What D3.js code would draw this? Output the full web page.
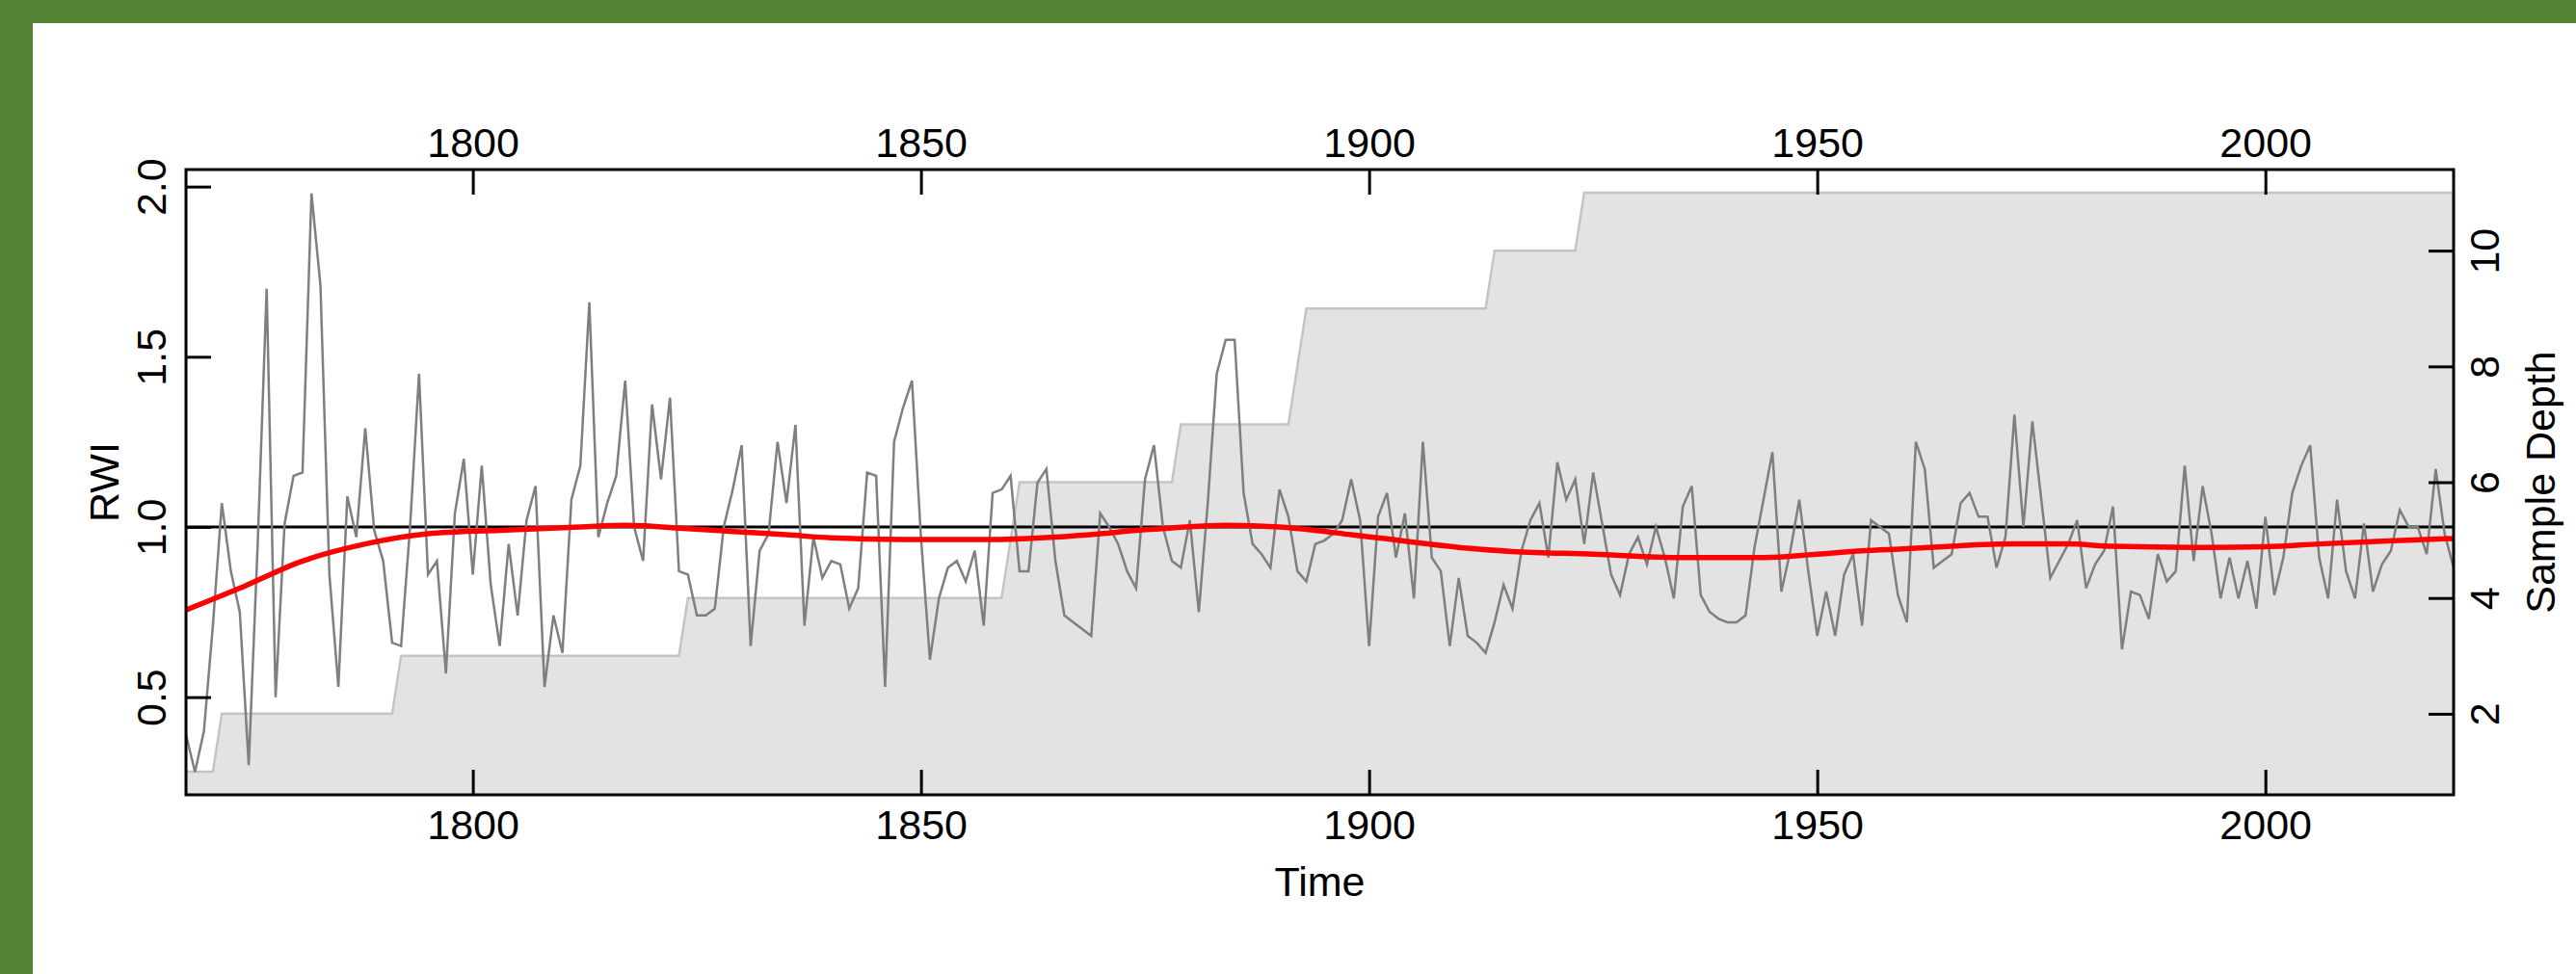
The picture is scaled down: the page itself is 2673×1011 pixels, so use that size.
<!DOCTYPE html>
<html>
<head>
<meta charset="utf-8">
<script src="https://cdn.jsdelivr.net/npm/d3@7"></script>
<style>
  html, body { margin: 0; padding: 0; background: #548235; }
  svg { display: block; }
  text { font-family: "Liberation Sans", Arial, sans-serif; font-size: 43px; fill: #000; }
</style>
</head>
<body>
<svg></svg>
<script>
//ring width index, one value per year starting at firstYear
var firstYear = 1768;
var rwi = [
    0.39, 0.28,
    0.40, 0.71, 1.07, 0.87, 0.75, 0.30, 0.95, 1.70, 0.50, 1.01, //1770s
    1.15, 1.16, 1.98, 1.71, 0.86, 0.53, 1.09, 0.97, 1.29, 0.99, //1780s
    0.90, 0.66, 0.65, 1.00, 1.45, 0.86, 0.90, 0.57, 1.04, 1.20, //1790s
    0.86, 1.18, 0.83, 0.65, 0.95, 0.74, 1.02, 1.12, 0.53, 0.74, //1800s
    0.63, 1.08, 1.18, 1.66, 0.97, 1.07, 1.15, 1.43, 1.00, 0.90, //1810s
    1.36, 1.14, 1.38, 0.87, 0.86, 0.74, 0.74, 0.76, 1.00, 1.11, //1820s
    1.24, 0.65, 0.93, 0.98, 1.25, 1.07, 1.30, 0.71, 0.97, 0.85, //1830s
    0.90, 0.89, 0.76, 0.82, 1.16, 1.15, 0.53, 1.25, 1.35, 1.43, //1840s
    0.97, 0.61, 0.79, 0.88, 0.90, 0.84, 0.93, 0.71, 1.10, 1.11, //1850s
    1.15, 0.87, 0.87, 1.13, 1.17, 0.90, 0.74, 0.72, 0.70, 0.68, //1860s
    1.04, 1.00, 0.95, 0.87, 0.82, 1.14, 1.24, 1.00, 0.90, 0.88, //1870s
    1.02, 0.75, 1.07, 1.45, 1.55, 1.55, 1.10, 0.95, 0.92, 0.88, //1880s
    1.11, 1.03, 0.87, 0.84, 0.95, 0.96, 0.98, 1.02, 1.14, 1.02, //1890s
    0.65, 1.03, 1.10, 0.91, 1.04, 0.79, 1.25, 0.91, 0.87, 0.65, //1900s
    0.85, 0.68, 0.66, 0.63, 0.72, 0.83, 0.76, 0.93, 1.02, 1.07, //1910s
    0.91, 1.19, 1.08, 1.14, 0.95, 1.16, 1.01, 0.86, 0.80, 0.92, //1920s
    0.97, 0.89, 1.00, 0.91, 0.79, 1.06, 1.12, 0.80, 0.75, 0.73, //1930s
    0.72, 0.72, 0.74, 0.94, 1.08, 1.22, 0.81, 0.93, 1.08, 0.87, //1940s
    0.68, 0.81, 0.68, 0.86, 0.92, 0.71, 1.02, 1.00, 0.98, 0.80, //1950s
    0.72, 1.25, 1.17, 0.88, 0.90, 0.92, 1.07, 1.10, 1.03, 1.03, //1960s
    0.88, 0.97, 1.33, 1.00, 1.31, 1.08, 0.85, 0.90, 0.95, 1.02, //1970s
    0.82, 0.89, 0.93, 1.06, 0.64, 0.81, 0.80, 0.73, 0.92, 0.84, //1980s
    0.87, 1.18, 0.90, 1.12, 0.98, 0.79, 0.91, 0.79, 0.90, 0.76, //1990s
    1.03, 0.80, 0.91, 1.10, 1.18, 1.24, 0.91, 0.79, 1.08, 0.87, //2000s
    0.79, 1.01, 0.81, 0.89, 0.93, 1.05, 1.00, 1.00, 0.92, 1.17, //2010s
    0.98, 0.88
];

//smoothing spline (red)
var splineYears = [1768, 1774, 1781, 1788, 1795, 1803, 1812, 1817, 1824, 1830, 1835, 1840, 1848, 1858,
    1865, 1870, 1874, 1878, 1884, 1890, 1894, 1898, 1902, 1906, 1910, 1916, 1925, 1935, 1944, 1950,
    1955, 1960, 1964, 1972, 1978, 1983, 1992, 2000, 2006, 2013, 2021];
var splineRwi = [0.756, 0.82, 0.90, 0.95, 0.98, 0.99, 1.0, 1.005, 0.995, 0.985, 0.977, 0.968, 0.963, 0.963,
    0.97, 0.98, 0.99, 0.997, 1.005, 1.0, 0.99, 0.977, 0.965, 0.952, 0.94, 0.928, 0.92, 0.91, 0.91, 0.92,
    0.93, 0.936, 0.942, 0.95, 0.95, 0.943, 0.94, 0.942, 0.95, 0.958, 0.966];

//sample depth, as runs of years with the same number of series
var depthFrom  = [1768, 1772, 1792, 1824, 1860, 1861, 1879, 1892, 1893, 1914, 1924];
var depthTo    = [1771, 1791, 1823, 1859, 1860, 1878, 1891, 1892, 1913, 1923, 2021];
var depthCount = [1, 2, 3, 4, 5, 6, 7, 8, 9, 10, 11];

//axes
var timeTicks = [1800, 1850, 1900, 1950, 2000];
var rwiTicks = [0.5, 1.0, 1.5, 2.0];
var depthTicks = [2, 4, 6, 8, 10];
var rwiLimits = [0.213, 2.05];
var depthLimits = [0.6, 11.4];

drawChart();

function drawChart() {
    var svgWidth = 2673, svgHeight = 1011;
    var box = { left: 193, right: 2546, top: 176, bottom: 825 };
    var tick = 26;

    var svg = d3.select('svg')
        .attr("width", svgWidth)
        .attr("height", svgHeight);

    //green frame with white page
    svg.append("rect")
        .attr("width", svgWidth).attr("height", svgHeight)
        .attr("fill", "#548235");
    svg.append("rect")
        .attr("x", 34).attr("y", 24)
        .attr("width", svgWidth - 34).attr("height", svgHeight - 24)
        .attr("fill", "#fff");

    var lastYear = firstYear + rwi.length - 1;
    var x = d3.scaleLinear().domain([firstYear, lastYear]).range([box.left, box.right]);
    var y = d3.scaleLinear().domain(rwiLimits).range([box.bottom, box.top]);
    var yDepth = d3.scaleLinear().domain(depthLimits).range([box.bottom, box.top]);

    svg.append("clipPath").attr("id", "plotclip")
        .append("rect")
        .attr("x", box.left).attr("y", box.top)
        .attr("width", box.right - box.left).attr("height", box.bottom - box.top);

    var g = svg.append("g").attr("clip-path", "url(#plotclip)");

    //sample depth polygon
    var depthPts = [];
    for (var i = 0; i < depthCount.length; i++) {
        depthPts.push({ year: depthFrom[i], depth: depthCount[i] });
        depthPts.push({ year: depthTo[i], depth: depthCount[i] });
    }
    g.append("path")
        .datum(depthPts)
        .attr("fill", "#e3e3e3")
        .attr("d", d3.area()
            .x(function(d) { return x(d.year); })
            .y0(box.bottom + 10)
            .y1(function(d) { return yDepth(d.depth); }));
    g.append("path")
        .datum(depthPts)
        .attr("fill", "none")
        .attr("stroke", "#c4c4c4")
        .attr("stroke-width", 2.5)
        .attr("d", d3.line()
            .x(function(d) { return x(d.year); })
            .y(function(d) { return yDepth(d.depth); }));

    //reference line at 1
    g.append("line")
        .attr("x1", box.left).attr("x2", box.right)
        .attr("y1", y(1)).attr("y2", y(1))
        .attr("stroke", "#000")
        .attr("stroke-width", 3);

    //chronology
    g.append("path")
        .datum(rwi)
        .attr("fill", "none")
        .attr("stroke", "#7f7f7f")
        .attr("stroke-width", 2.5)
        .attr("stroke-linejoin", "miter")
        .attr("d", d3.line()
            .x(function(d, i) { return x(firstYear + i); })
            .y(function(d) { return y(d); }));

    //spline
    g.append("path")
        .datum(splineYears)
        .attr("fill", "none")
        .attr("stroke", "#ff0000")
        .attr("stroke-width", 5.5)
        .attr("d", d3.line()
            .curve(d3.curveMonotoneX)
            .x(function(d) { return x(d); })
            .y(function(d, i) { return y(splineRwi[i]); }));

    //axes, ticks pointing inward
    var bottomAxis = svg.append("g")
        .attr("transform", "translate(0," + box.bottom + ")")
        .call(d3.axisBottom(x).tickValues(timeTicks).tickFormat(d3.format("d")).tickSize(-tick).tickPadding(15));
    var topAxis = svg.append("g")
        .attr("transform", "translate(0," + box.top + ")")
        .call(d3.axisTop(x).tickValues(timeTicks).tickFormat(d3.format("d")).tickSize(-tick).tickPadding(13));
    var leftAxis = svg.append("g")
        .attr("transform", "translate(" + box.left + ",0)")
        .call(d3.axisLeft(y).tickValues(rwiTicks).tickFormat(d3.format(".1f")).tickSize(-tick));
    var rightAxis = svg.append("g")
        .attr("transform", "translate(" + box.right + ",0)")
        .call(d3.axisRight(yDepth).tickValues(depthTicks).tickFormat(d3.format("d")).tickSize(-tick));

    [bottomAxis, topAxis, leftAxis, rightAxis].forEach(function(a) {
        a.select(".domain").remove();
        a.selectAll("line").attr("stroke", "#000").attr("stroke-width", 3);
    });

    //vertical tick labels on both y axes
    leftAxis.selectAll("text")
        .attr("x", null).attr("dy", null)
        .attr("text-anchor", "middle")
        .attr("transform", "translate(-21,0) rotate(-90)");
    rightAxis.selectAll("text")
        .attr("x", null).attr("dy", null)
        .attr("text-anchor", "middle")
        .attr("transform", "translate(47,0) rotate(-90)");

    //box
    svg.append("rect")
        .attr("x", box.left).attr("y", box.top)
        .attr("width", box.right - box.left).attr("height", box.bottom - box.top)
        .attr("fill", "none")
        .attr("stroke", "#000")
        .attr("stroke-width", 3);

    //axis titles
    svg.append("text")
        .attr("x", (box.left + box.right) / 2).attr("y", 930)
        .attr("text-anchor", "middle")
        .text("Time");
    svg.append("text")
        .attr("transform", "translate(123," + (box.top + box.bottom) / 2 + ") rotate(-90)")
        .attr("text-anchor", "middle")
        .text("RWI");
    svg.append("text")
        .attr("transform", "translate(2651," + (box.top + box.bottom) / 2 + ") rotate(-90)")
        .attr("text-anchor", "middle")
        .text("Sample Depth");
}
</script>
</body>
</html>
